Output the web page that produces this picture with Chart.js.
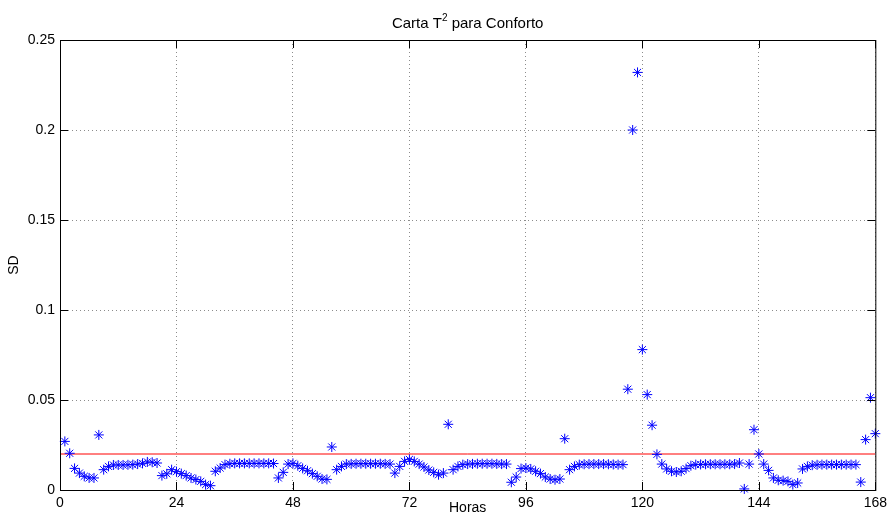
<!DOCTYPE html>
<html>
<head>
<meta charset="utf-8">
<title>Carta T2 para Conforto</title>
<script src="https://cdn.jsdelivr.net/npm/chart.js@4/dist/chart.umd.min.js"></script>
<style>
  html, body { margin: 0; padding: 0; background: #fff; }
  #caja { width: 892px; height: 521px; position: relative; }
</style>
</head>
<body>
<div id="caja"><canvas id="grafico-t2"></canvas></div>
<script>
const horaInicial = 1;
const valores = [
  0.0270, 0.0204, 0.0120, 0.0094, 0.0076, 0.0067, 0.0067, 0.0306, 0.0113, 0.0131,
  0.0139, 0.0139, 0.0139, 0.0140, 0.0141, 0.0144, 0.0148, 0.0156, 0.0154, 0.0150,
  0.0080, 0.0090, 0.0113, 0.0102, 0.0091, 0.0080, 0.0067, 0.0058, 0.0048, 0.0030,
  0.0024, 0.0104, 0.0122, 0.0141, 0.0146, 0.0148, 0.0148, 0.0148, 0.0148, 0.0148,
  0.0148, 0.0148, 0.0148, 0.0147, 0.0067, 0.0098, 0.0144, 0.0148, 0.0135, 0.0120,
  0.0107, 0.0091, 0.0076, 0.0061, 0.0059, 0.0239, 0.0113, 0.0131, 0.0144, 0.0145,
  0.0146, 0.0146, 0.0146, 0.0146, 0.0146, 0.0146, 0.0145, 0.0144, 0.0094, 0.0131,
  0.0159, 0.0170, 0.0159, 0.0144, 0.0128, 0.0111, 0.0098, 0.0085, 0.0094, 0.0365,
  0.0113, 0.0131, 0.0141, 0.0144, 0.0145, 0.0146, 0.0146, 0.0146, 0.0146, 0.0145,
  0.0144, 0.0144, 0.0043, 0.0072, 0.0119, 0.0122, 0.0117, 0.0104, 0.0091, 0.0072,
  0.0061, 0.0057, 0.0061, 0.0285, 0.0113, 0.0131, 0.0141, 0.0143, 0.0144, 0.0144,
  0.0144, 0.0144, 0.0143, 0.0142, 0.0141, 0.0141, 0.0560, 0.2000, 0.2320, 0.0780,
  0.0530, 0.0360, 0.0198, 0.0144, 0.0117, 0.0104, 0.0100, 0.0104, 0.0119, 0.0135,
  0.0141, 0.0142, 0.0143, 0.0143, 0.0143, 0.0143, 0.0143, 0.0143, 0.0144, 0.0150,
  0.0006, 0.0144, 0.0335, 0.0200, 0.0144, 0.0109, 0.0067, 0.0054, 0.0052, 0.0048,
  0.0030, 0.0039, 0.0117, 0.0131, 0.0138, 0.0140, 0.0141, 0.0141, 0.0141, 0.0141,
  0.0141, 0.0141, 0.0141, 0.0141, 0.0044, 0.0280, 0.0513, 0.0313
];
// Límite de control (línea roja)
const limite = 0.02;
const limiteX = [0, 168];

// Ticks de los ejes
const xTicks = [0, 24, 48, 72, 96, 120, 144, 168];
const yTicks = [0, 0.05, 0.1, 0.15, 0.2, 0.25];

const fuente = 'Helvetica, "Liberation Sans", Arial, sans-serif';
Chart.defaults.font.family = fuente;
Chart.defaults.font.size = 14;
Chart.defaults.color = '#000';

// 1) Plugin: título con superíndice, marco y ticks hacia adentro (estilo MATLAB)
const marcoPlugin = {
  id: 'marco',
  afterDraw(chart) {
    const { ctx, chartArea: a, scales } = chart;
    ctx.save();

    // marco
    ctx.strokeStyle = '#000';
    ctx.lineWidth = 1;
    ctx.strokeRect(a.left + 0.5, a.top + 0.5, a.right - a.left, a.bottom - a.top);

    // ticks
    const largo = 8;
    ctx.beginPath();
    xTicks.forEach(v => {
      const px = Math.round(scales.x.getPixelForValue(v)) + 0.5;
      ctx.moveTo(px, a.bottom); ctx.lineTo(px, a.bottom - largo);
      ctx.moveTo(px, a.top); ctx.lineTo(px, a.top + largo);
    });
    yTicks.forEach(v => {
      const py = Math.round(scales.y.getPixelForValue(v)) + 0.5;
      ctx.moveTo(a.left, py); ctx.lineTo(a.left + largo, py);
      ctx.moveTo(a.right, py); ctx.lineTo(a.right - largo, py);
    });
    ctx.stroke();

    // título: "Carta T² para Conforto"
    const partes = ['Carta T', '2', ' para Conforto'];
    const fNormal = '15px ' + fuente;
    const fSup = '10px ' + fuente;
    ctx.font = fNormal;
    const w1 = ctx.measureText(partes[0]).width;
    const w3 = ctx.measureText(partes[2]).width;
    ctx.font = fSup;
    const w2 = ctx.measureText(partes[1]).width;
    const total = w1 + w2 + w3;
    const cx = (a.left + a.right) / 2;
    const base = 28;
    let x0 = cx - total / 2;
    ctx.fillStyle = '#000';
    ctx.textBaseline = 'alphabetic';
    ctx.textAlign = 'left';
    ctx.font = fNormal;
    ctx.fillText(partes[0], x0, base);
    ctx.font = fSup;
    ctx.fillText(partes[1], x0 + w1, base - 7);
    ctx.font = fNormal;
    ctx.fillText(partes[2], x0 + w1 + w2, base);
    ctx.restore();
  }
};

// 2) Armar los datasets a partir de los arreglos
const puntos = valores.map((v, i) => ({ x: horaInicial + i, y: v }));
const lineaLimite = limiteX.map(x => ({ x: x, y: limite }));

const ctx = document.getElementById('grafico-t2').getContext('2d');
window.graficoT2 = new Chart(ctx, {
  type: 'scatter',
  data: {
    datasets: [
      {
        label: 'SD',
        data: puntos,
        showLine: false,
        pointStyle: 'star',
        pointRadius: 5,
        pointHoverRadius: 5,
        borderColor: 'rgb(0, 0, 255)',
        backgroundColor: 'rgb(0, 0, 255)',
        pointBorderWidth: 1,
        clip: false
      },
      {
        label: 'Límite',
        type: 'line',
        data: lineaLimite,
        borderColor: 'rgb(255, 0, 0)',
        borderWidth: 1,
        pointRadius: 0,
        fill: false
      }
    ]
  },
  options: {
    responsive: true,
    maintainAspectRatio: false,
    animation: false,
    events: [],
    layout: { padding: { top: 40, right: 12, left: 0, bottom: 0 } },
    plugins: {
      legend: { display: false },
      tooltip: { enabled: false },
      title: { display: false }
    },
    scales: {
      x: {
        type: 'linear',
        min: 0,
        max: 168,
        afterBuildTicks: s => { s.ticks = xTicks.map(v => ({ value: v })); },
        afterFit: s => { s.height = 31; },
        ticks: { padding: 5, maxRotation: 0, autoSkip: false, font: { size: 14 } },
        grid: { color: 'rgba(0,0,0,0.45)', drawTicks: false, lineWidth: 1 },
        border: { display: false, dash: [1, 3] },
        title: { display: true, text: 'Horas', font: { size: 14 }, padding: { top: 0, bottom: 4 } }
      },
      y: {
        min: 0,
        max: 0.25,
        afterBuildTicks: s => { s.ticks = yTicks.map(v => ({ value: v })); },
        afterFit: s => { s.width = 60; },
        ticks: { padding: 5, autoSkip: false, font: { size: 14 }, callback: v => String(v) },
        grid: { color: 'rgba(0,0,0,0.45)', drawTicks: false, lineWidth: 1 },
        border: { display: false, dash: [1, 3] },
        title: { display: true, text: 'SD', font: { size: 14 }, padding: { top: 6, bottom: 0 } }
      }
    }
  },
  plugins: [marcoPlugin]
});
</script>
</body>
</html>
